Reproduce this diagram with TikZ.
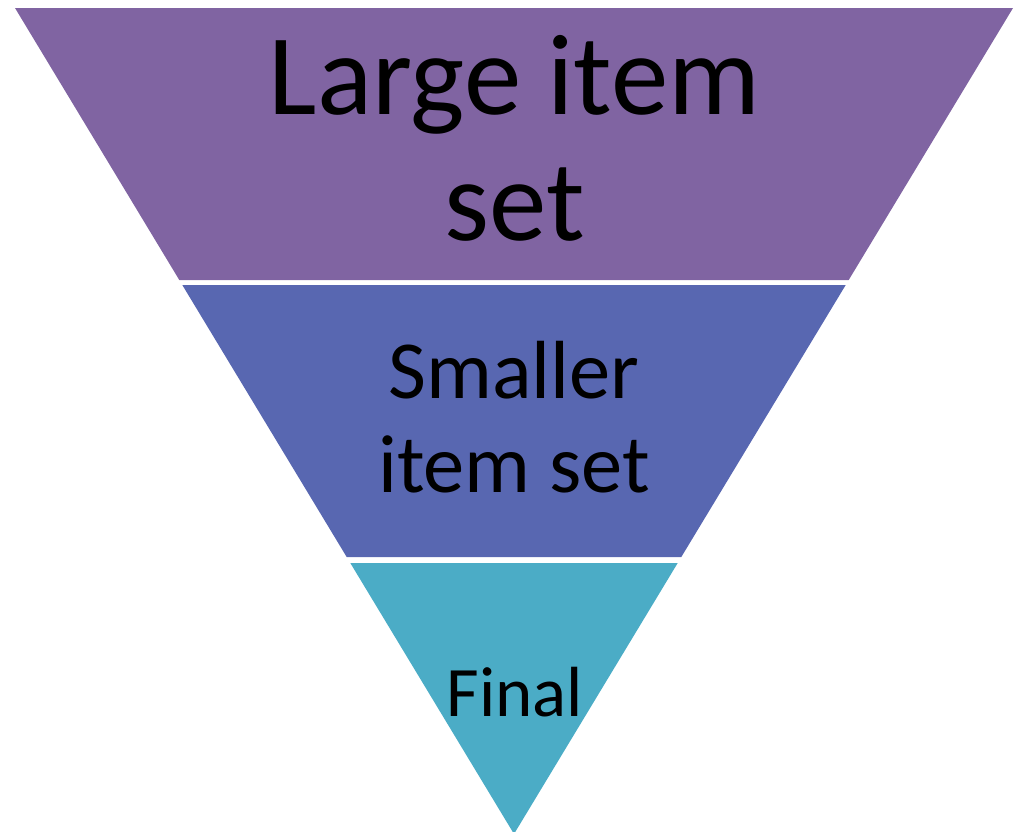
\documentclass[tikz,border=0pt]{standalone}
\usepackage{fontspec}
\setmainfont{Carlito}
\definecolor{bandA}{HTML}{8064A2}
\definecolor{bandB}{HTML}{5867B1}
\definecolor{bandC}{HTML}{4BACC6}
\begin{document}
\begin{tikzpicture}[x=1pt,y=-1pt,
  band/.style={draw=none},
  lbl/.style={inner sep=0pt, align=center, text=black, anchor=base}]
\useasboundingbox (0,0) rectangle (1019,831);
\clip (0,0) rectangle (1019,831);
% band 1
\coordinate (a1) at (15,8);
\coordinate (a2) at (1013,8);
\coordinate (a3) at (848.7,280);
\coordinate (a4) at (179.3,280);
\fill[bandA] (a1) -- (a2) -- (a3) -- (a4) -- cycle;
% band 2
\coordinate (b1) at (182.3,285);
\coordinate (b2) at (845.7,285);
\coordinate (b3) at (681.3,557);
\coordinate (b4) at (346.7,557);
\fill[bandB] (b1) -- (b2) -- (b3) -- (b4) -- cycle;
% band 3
\coordinate (c1) at (350.3,563);
\coordinate (c2) at (677.7,563);
\coordinate (c3) at (514,834);
\fill[bandC] (c1) -- (c2) -- (c3) -- cycle;
% labels (base anchor = baseline of last line)
\node[lbl, font=\fontsize{115}{126}\selectfont] (t1) at (514.5,240) {Large item\\set};
\node[lbl, font=\fontsize{82.5}{94}\selectfont] (t2) at (514,492) {Smaller\\item set};
\node[lbl, font=\fontsize{71}{71}\selectfont] (t3) at (515,716) {Final};
\end{tikzpicture}
\end{document}
